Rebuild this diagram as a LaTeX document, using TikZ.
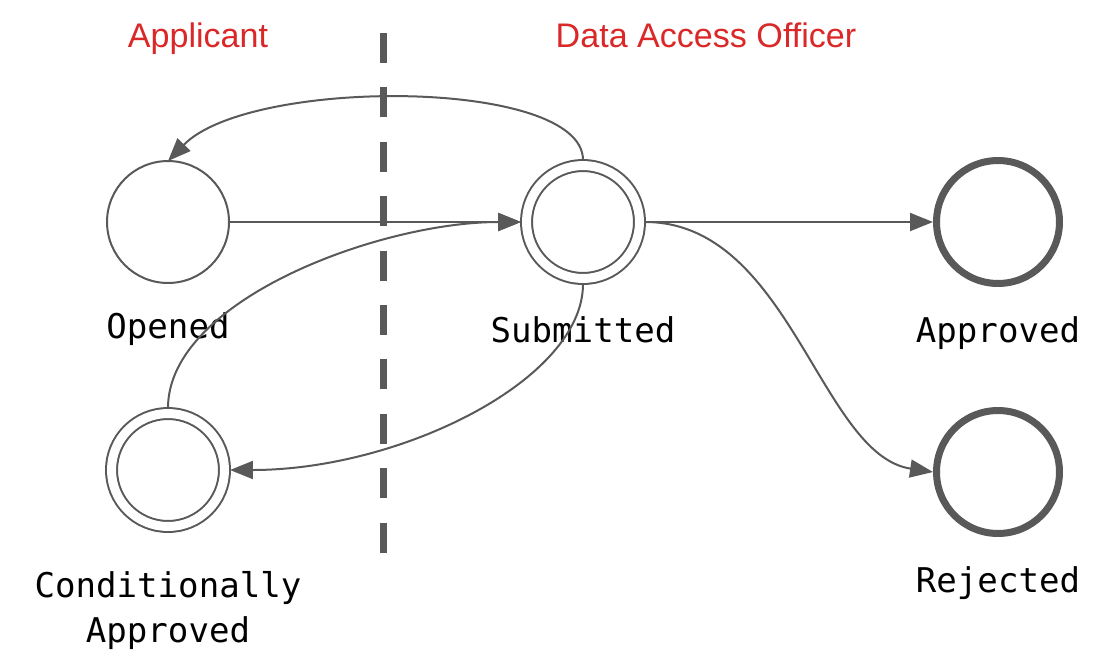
\documentclass[tikz,border=0pt]{standalone}
\usepackage{fontspec}
\setmainfont{Liberation Sans}
\setmonofont{DejaVu Sans Mono}
\usepackage{tikz}
\usetikzlibrary{positioning}
\usetikzlibrary{arrows.meta}
\definecolor{edgegray}{RGB}{89,89,89}
\definecolor{lanered}{RGB}{218,40,40}

\begin{document}
\begin{tikzpicture}[x=0.02cm, y=-0.02cm,
    statenode/.style={circle, draw=edgegray, line width=0.04cm,
      minimum size=2.44cm, inner sep=0pt, outer sep=0pt},
    acceptnode/.style={circle, draw=edgegray, line width=0.04cm,
      double, double distance=0.18cm, minimum size=2.26cm, inner
      sep=0pt, outer sep=0.11cm},
    finalnode/.style={circle, draw=edgegray, line width=0.14cm,
      minimum size=2.46cm, inner sep=0pt, outer sep=0.07cm},
    labelfont/.style={font=\fontsize{19.4}{25.2}\selectfont\ttfamily,
      inner sep=0pt},
    statelabel/.style={labelfont, text height=0.75em, text
      depth=0.25em},
    lanetitle/.style={font=\fontsize{19.4}{23}\selectfont,
      text=lanered, inner sep=0pt, anchor=base},
    trans/.style={draw=edgegray, line width=0.04cm,
      -{Triangle[length=0.46cm, width=0.36cm]}},
    divider/.style={draw=edgegray, line width=0.14cm, dash
      pattern=on 0.6cm off 0.488cm}, ]
    \useasboundingbox (0,0) rectangle (1116,660);
    % Lanes
    \node[lanetitle] (applicant) at (198,47) {Applicant};
    \node[lanetitle] (officer) at (706,47) {Data Access Officer};
    \coordinate (divtop) at (383,33); \coordinate (divbot) at
    (383,553); \draw[divider] (divtop) -- (divbot);
    % Nodes
    \node[statenode] (opened) at (168,222) {}; \node[acceptnode]
    (submitted) at (583,222) {}; \node[acceptnode] (condapproved) at
    (168,470) {}; \node[finalnode] (approved) at (998,222) {};
    \node[finalnode] (rejected) at (998,472) {};
    % Labels
    \node[statelabel] (opened_lbl) [below=0.83cm of opened] {Opened};
    \node[statelabel] (submitted_lbl) [below=0.89cm of submitted]
    {Submitted}; \node[statelabel] (approved_lbl) [below=0.83cm of
    approved] {Approved}; \node[statelabel] (rejected_lbl)
    [below=0.83cm of rejected] {Rejected}; \node[labelfont,
    align=center] (condapproved_lbl) [below=0.79cm of condapproved]
    {Conditionally\\Approved};
    % Lines
    \draw[trans] (opened.east) -- (submitted.west); \draw[trans]
    (submitted.north) .. controls +(0,-82) and +(82,-84) ..
    (opened.north); \draw[trans] (condapproved.north) .. controls
    +(0,-108) and +(-141,0) .. (submitted.west); \draw[trans]
    (submitted.south) .. controls +(0,96) and +(170,0) ..
    (condapproved.east); \draw[trans] (submitted.east) --
    (approved.west); \draw[trans] (submitted.east) .. controls
    +(145,0) and +(-113,-17) .. (rejected.west);
  \end{tikzpicture}
\end{document}
